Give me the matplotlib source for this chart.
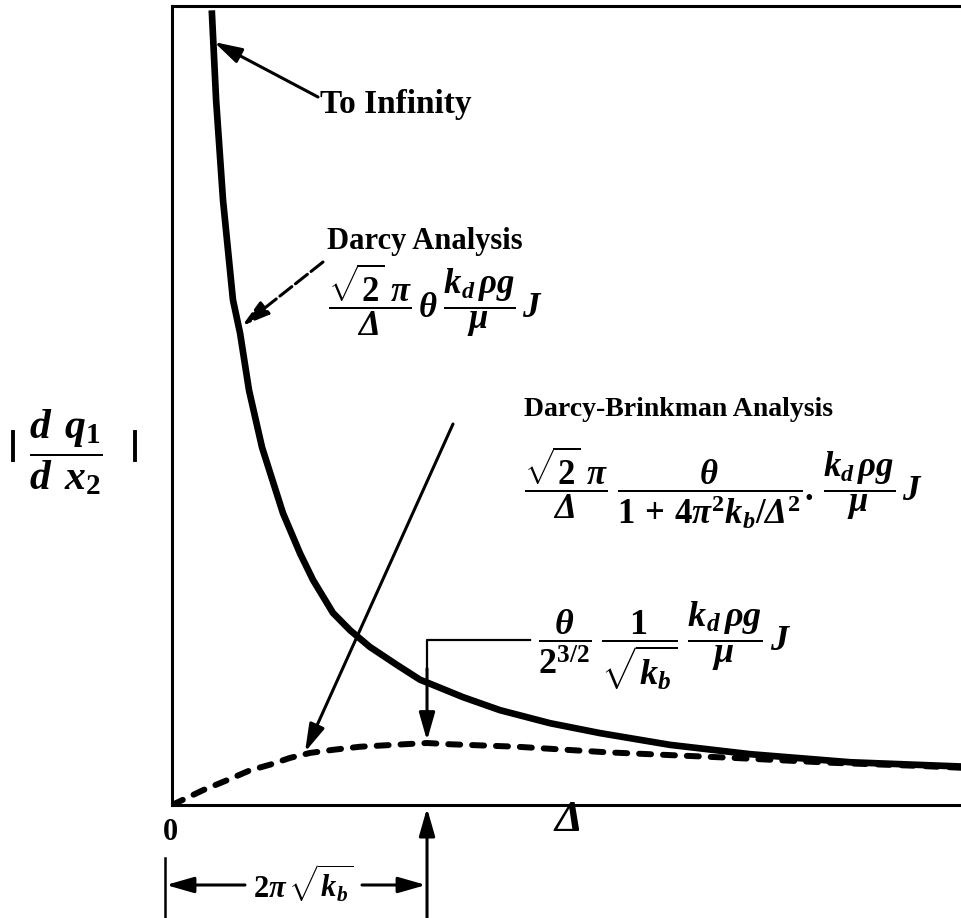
import matplotlib
matplotlib.use('Agg')
import numpy as np
from matplotlib import pyplot as plt

# Delta in units of 2*pi*sqrt(k_b); gradient in units of the Brinkman peak
darcy_x = [0.156, 0.173, 0.200, 0.239, 0.267, 0.302, 0.353, 0.435, 0.502, 0.553,
           0.631, 0.698, 0.776, 0.882, 0.973, 1.004, 1.141, 1.286, 1.482, 1.678,
           1.953, 2.267, 2.659, 3.100]
darcy_y = [12.82, 11.37, 9.76, 8.15, 7.61, 6.69, 5.77, 4.71, 4.06, 3.63,
           3.10, 2.82, 2.55, 2.26, 2.02, 1.97, 1.74, 1.53, 1.32, 1.16,
           0.97, 0.82, 0.69, 0.62]

brinkman_x = [0.0, 0.122, 0.216, 0.306, 0.384, 0.463, 0.541, 0.631, 0.737, 0.867,
              1.000, 1.090, 1.353, 1.706, 2.200, 2.592, 2.933, 3.100]
brinkman_y = [0.0, 0.24, 0.40, 0.56, 0.65, 0.76, 0.84, 0.89, 0.94, 0.97,
              1.00, 0.98, 0.94, 0.85, 0.76, 0.68, 0.63, 0.60]

peak_x = 1.0
peak_y = 1.0

W, H = 962, 918


def px(x, y):
    return x / W, 1 - y / H


def seg(xa, ya, xb, yb, lw):
    (fx0, fy0), (fx1, fy1) = px(xa, ya), px(xb, yb)
    fig.add_artist(plt.Line2D([fx0, fx1], [fy0, fy1], color='black', lw=lw))


plt.rcParams['mathtext.fontset'] = 'custom'
plt.rcParams['mathtext.rm'] = 'Liberation Serif:bold'
plt.rcParams['mathtext.it'] = 'Liberation Serif:italic:bold'
plt.rcParams['mathtext.bf'] = 'Liberation Serif:bold'
# slanted capital Greek (mathtext keeps them upright in \mathit)
plt.rcParams['mathtext.sf'] = 'Liberation Serif:italic:bold'
plt.rcParams['font.family'] = ['Liberation Serif', 'DejaVu Serif']
plt.rcParams['font.weight'] = 'bold'

fig = plt.figure(figsize=(W / 100, H / 100), dpi=100)
x0, y0 = px(172, 805)
x1, y1 = px(972, 6)
ax = fig.add_axes([x0, y0, x1 - x0, y1 - y0])
ax.set_xlim(0, 3.137)
ax.set_ylim(0, 12.89)
for side in ['left', 'bottom', 'top']:
    ax.spines[side].set_linewidth(2.2)
ax.spines['right'].set_visible(False)
ax.set_xticks([])
ax.set_yticks([])

ax.plot(darcy_x, darcy_y, color='black', lw=4.8, solid_capstyle='butt',
        solid_joinstyle='round')
ax.plot(brinkman_x, brinkman_y, color='black', lw=4.3, dashes=(2.0, 2.0),
        dash_capstyle='round')

arrow = dict(arrowstyle='-|>,head_length=1.4,head_width=0.4', color='black',
             lw=2.2, shrinkA=0, shrinkB=0, mutation_scale=12)
D = r'\mathsf{\Delta}'

# To Infinity
fig.text(*px(320, 104), 'To Infinity', fontsize=24, va='center', ha='left')
ax.annotate('', xy=px(214, 42), xycoords='figure fraction',
            xytext=px(318, 97), textcoords='figure fraction', arrowprops=arrow)

# Darcy analysis
fig.text(*px(327, 242), 'Darcy Analysis', fontsize=22, va='center', ha='left')
fig.text(*px(328, 300),
         r'$\dfrac{\sqrt{2}\;\pi}{' + D + r'}\,\theta\;\dfrac{k_d\,\rho g}{\mu}\,J$',
         fontsize=25, va='center', ha='left')
dash_arrow = dict(arrow, linestyle=(0, (5, 1.5)))
ax.annotate('', xy=px(242, 326), xycoords='figure fraction',
            xytext=px(323, 262), textcoords='figure fraction', arrowprops=dash_arrow)

# Darcy-Brinkman analysis
fig.text(*px(524, 410), 'Darcy-Brinkman Analysis', fontsize=20, va='center', ha='left')
fig.text(*px(524, 488),
         r'$\dfrac{\sqrt{2}\;\pi}{' + D + r'}\;\dfrac{\theta}{1\,+\,4\pi^2k_b/' + D +
         r'^2}.\,\dfrac{k_d\,\rho g}{\mu}\,J$',
         fontsize=25, va='center', ha='left')
ax.annotate('', xy=px(305, 752), xycoords='figure fraction',
            xytext=px(453, 424), textcoords='figure fraction', arrowprops=arrow)

# peak value
fig.text(*px(538, 646),
         r'$\dfrac{\theta}{2^{3/2}}\;\dfrac{1}{\sqrt{k_b}}\;\dfrac{k_d\,\rho g}{\mu}\,J$',
         fontsize=26, va='center', ha='left')
ax.plot([(530 - 172) / 255, peak_x, peak_x], [(805 - 640) / 62] * 2 + [2.2],
        color='black', lw=1.6)
ax.annotate('', xy=(peak_x, peak_y + 0.04), xycoords='data',
            xytext=(peak_x, 2.2), textcoords='data', arrowprops=arrow)

# below the axis
fig.text(*px(170, 832), '0', fontsize=22, va='center', ha='center')
fig.text(*px(568, 820), 'Δ', fontsize=32, style='italic', va='center', ha='center')
ax.annotate('', xy=(peak_x, -0.05), xycoords='data',
            xytext=(peak_x, -1.83), textcoords='data', arrowprops=arrow,
            annotation_clip=False)
seg(165, 858, 165, 918, 1.8)
ax.annotate('', xy=px(166, 885), xycoords='figure fraction',
            xytext=px(245, 885), textcoords='figure fraction', arrowprops=arrow)
ax.annotate('', xy=px(426, 885), xycoords='figure fraction',
            xytext=px(362, 885), textcoords='figure fraction', arrowprops=arrow)
fig.text(*px(303, 884), r'$2\pi\,\sqrt{k_b}$', fontsize=22, va='center', ha='center')

# y label with absolute-value bars
fig.text(*px(66, 452), r'$\dfrac{d\;\,q_1}{d\;\,x_2}$', fontsize=30, va='center', ha='center')
seg(13, 432, 13, 460, 2.8)
seg(135, 432, 135, 460, 2.8)

fig.savefig('out.png', dpi=100)
